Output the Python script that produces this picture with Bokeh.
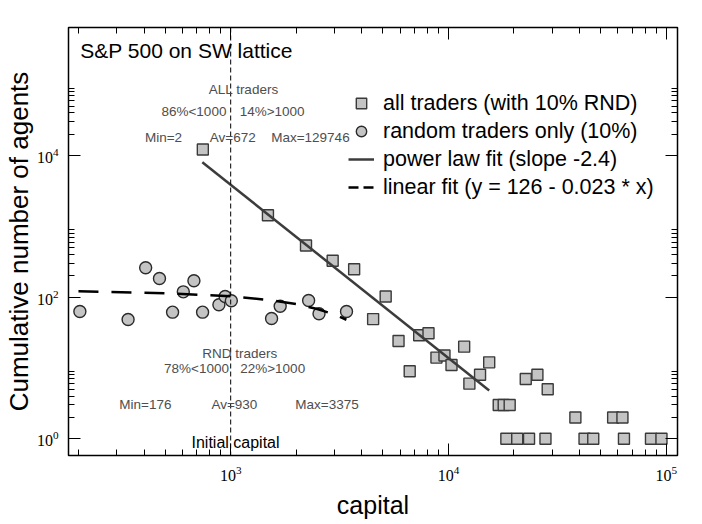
from bokeh.plotting import figure
from bokeh.models import Range1d, FixedTicker, LogAxis, Label, Legend, LegendItem, Span, ColumnDataSource
from bokeh.embed import file_html
from bokeh.resources import INLINE

# ---------------- data ----------------
all_x = [745, 1483, 2218, 2940, 3690, 4510, 5150, 5900, 6640, 7340, 8100, 8810, 9590,
         10330, 11810, 12480, 13970, 15390, 17020, 17940, 19110, 18450, 20700, 22650,
         23450, 25620, 27900, 28570, 38280, 42170, 46240, 57070, 62960, 63980, 85140, 95140]
all_y = [12190, 1439, 537, 327, 248, 49, 102, 24, 9, 29, 31, 14, 15,
         11, 20, 6, 8, 12, 3, 3, 3, 1, 1, 7,
         1, 8, 1, 5, 2, 1, 1, 2, 2, 1, 1, 1]

rnd_x = [203, 338, 407, 471, 541, 606, 678, 743, 883, 943, 1007, 1541, 1688, 2280, 2545, 3404]
rnd_y = [62.8, 48.4, 260, 184, 61.4, 119, 171, 61.4, 78.1, 102, 89, 50, 74.6, 89.8, 58.3, 62.8]

fit_x = [741, 15390]
fit_y = [8070, 4.8]

lin_x = [200, 500, 1000, 1500, 2000, 2500, 3000, 3400]
lin_y = [121, 114, 103, 91, 80, 68, 57, 48]

x_major = [1e3, 1e4, 1e5]
y_major = [1, 1e2, 1e4]
x_minor_decades = [2, 3, 4]
y_minor_decades = [0, 2, 4]
mantissas = [2, 3, 4, 5, 6, 7, 8, 9]

legend_labels = ["all traders (with 10% RND)", "random traders only (10%)",
                 "power law fit (slope -2.4)", "linear fit (y = 126 - 0.023 * x)"]

# ---------------- figure ----------------
p = figure(width=702, height=524, x_axis_type="log", y_axis_type="log",
           x_range=Range1d(180, 112700), y_range=Range1d(0.58, 645000),
           output_backend="svg", toolbar_location=None,
           min_border_left=66, min_border_right=25, min_border_top=27, min_border_bottom=69)
p.background_fill_color = "white"
p.border_fill_color = "white"
p.outline_line_color = "black"
p.outline_line_width = 1.5
p.grid.visible = False

x_minor = [m * 10 ** k for k in x_minor_decades for m in mantissas]
y_minor = [m * 10 ** k for k in y_minor_decades for m in mantissas]


def style_axis(ax, major, minor):
    ax.ticker = FixedTicker(ticks=major, minor_ticks=minor)
    ax.major_tick_in = 12
    ax.major_tick_out = 0
    ax.minor_tick_in = 6
    ax.minor_tick_out = 0
    ax.major_tick_line_color = "black"
    ax.minor_tick_line_color = "black"
    ax.axis_line_color = None
    ax.major_label_text_font = "Liberation Serif"
    ax.major_label_text_font_size = "16px"
    ax.major_label_text_color = "black"


style_axis(p.xaxis[0], x_major, x_minor)
style_axis(p.yaxis[0], y_major, y_minor)
p.xaxis.major_label_standoff = 10
p.yaxis.major_label_standoff = 10
p.xaxis.axis_label = "capital"
p.yaxis.axis_label = "Cumulative number of agents"
for ax in (p.xaxis[0], p.yaxis[0]):
    ax.axis_label_text_font = "Liberation Sans"
    ax.axis_label_text_font_style = "normal"
    ax.axis_label_text_color = "black"
p.xaxis.axis_label_text_font_size = "25px"
p.yaxis.axis_label_text_font_size = "26px"
p.xaxis.axis_label_standoff = 7
p.yaxis.axis_label_standoff = 0

# mirror ticks on top and right
top_ax = LogAxis()
right_ax = LogAxis()
style_axis(top_ax, x_major, x_minor)
style_axis(right_ax, y_major, y_minor)
for ax in (top_ax, right_ax):
    ax.major_label_text_color = None
    ax.major_label_text_font_size = "1px"
    ax.major_label_standoff = 0
p.add_layout(top_ax, "above")
p.add_layout(right_ax, "right")

# vertical line at the initial capital
p.add_layout(Span(location=1000, dimension="height", line_color="black",
                  line_width=1, line_dash="5 3"))

# ---------------- marks ----------------
src_all = ColumnDataSource(dict(x=all_x, y=all_y))
src_rnd = ColumnDataSource(dict(x=rnd_x, y=rnd_y))
r_sq = p.scatter("x", "y", source=src_all, marker="square", size=11,
                 fill_color="#c4c4c4", line_color="#3a3a3a", line_width=1.4)
r_ci = p.scatter("x", "y", source=src_rnd, marker="circle", size=12,
                 fill_color="#c4c4c4", line_color="#2a2a2a", line_width=1.4)
r_fit = p.line(fit_x, fit_y, line_color="#3c3c3c", line_width=2.5)
r_lin = p.line(lin_x, lin_y, line_color="black", line_width=2.5, line_dash="20 13")
# hidden twin of the linear fit, only used for the legend sample (shorter dashes)
r_lin_leg = p.line(lin_x, lin_y, line_color="black", line_width=2.5, line_dash="10 5",
                   visible=False)

legend = Legend(items=[LegendItem(label=legend_labels[0], renderers=[r_sq]),
                       LegendItem(label=legend_labels[1], renderers=[r_ci]),
                       LegendItem(label=legend_labels[2], renderers=[r_fit]),
                       LegendItem(label=legend_labels[3], renderers=[r_lin_leg])],
                location=(280, 255), glyph_width=26, glyph_height=26, label_height=26,
                spacing=2, padding=0, margin=0, label_standoff=9,
                border_line_color=None, background_fill_alpha=0,
                inactive_fill_alpha=0,
                label_text_font="Liberation Sans", label_text_font_size="21.5px",
                label_text_color="black")
p.add_layout(legend)

# ---------------- texts ----------------
def txt(x, y, s, size="13.5px", color="#4e4e4e"):
    p.add_layout(Label(x=x, y=y, text=s, text_font="Liberation Sans", text_font_size=size,
                       text_color=color, text_align="left", text_baseline="alphabetic"))


txt(204, 305000, "S&P 500 on SW lattice", size="21px", color="black")
txt(794, 85900, "ALL traders")
txt(481, 41400, "86%<1000")
txt(1100, 41400, "14%>1000")
txt(404, 17800, "Min=2")
txt(802, 17800, "Av=672")
txt(1535, 17800, "Max=129746")
txt(740, 16.0, "RND traders")
txt(494, 9.84, "78%<1000")
txt(1106, 9.84, "22%>1000")
txt(308, 3.08, "Min=176")
txt(816, 3.08, "Av=930")
txt(1982, 3.08, "Max=3375")
txt(661, 0.873, "Initial capital", size="16px", color="black")

open("out.html", "w").write(file_html(p, INLINE))
